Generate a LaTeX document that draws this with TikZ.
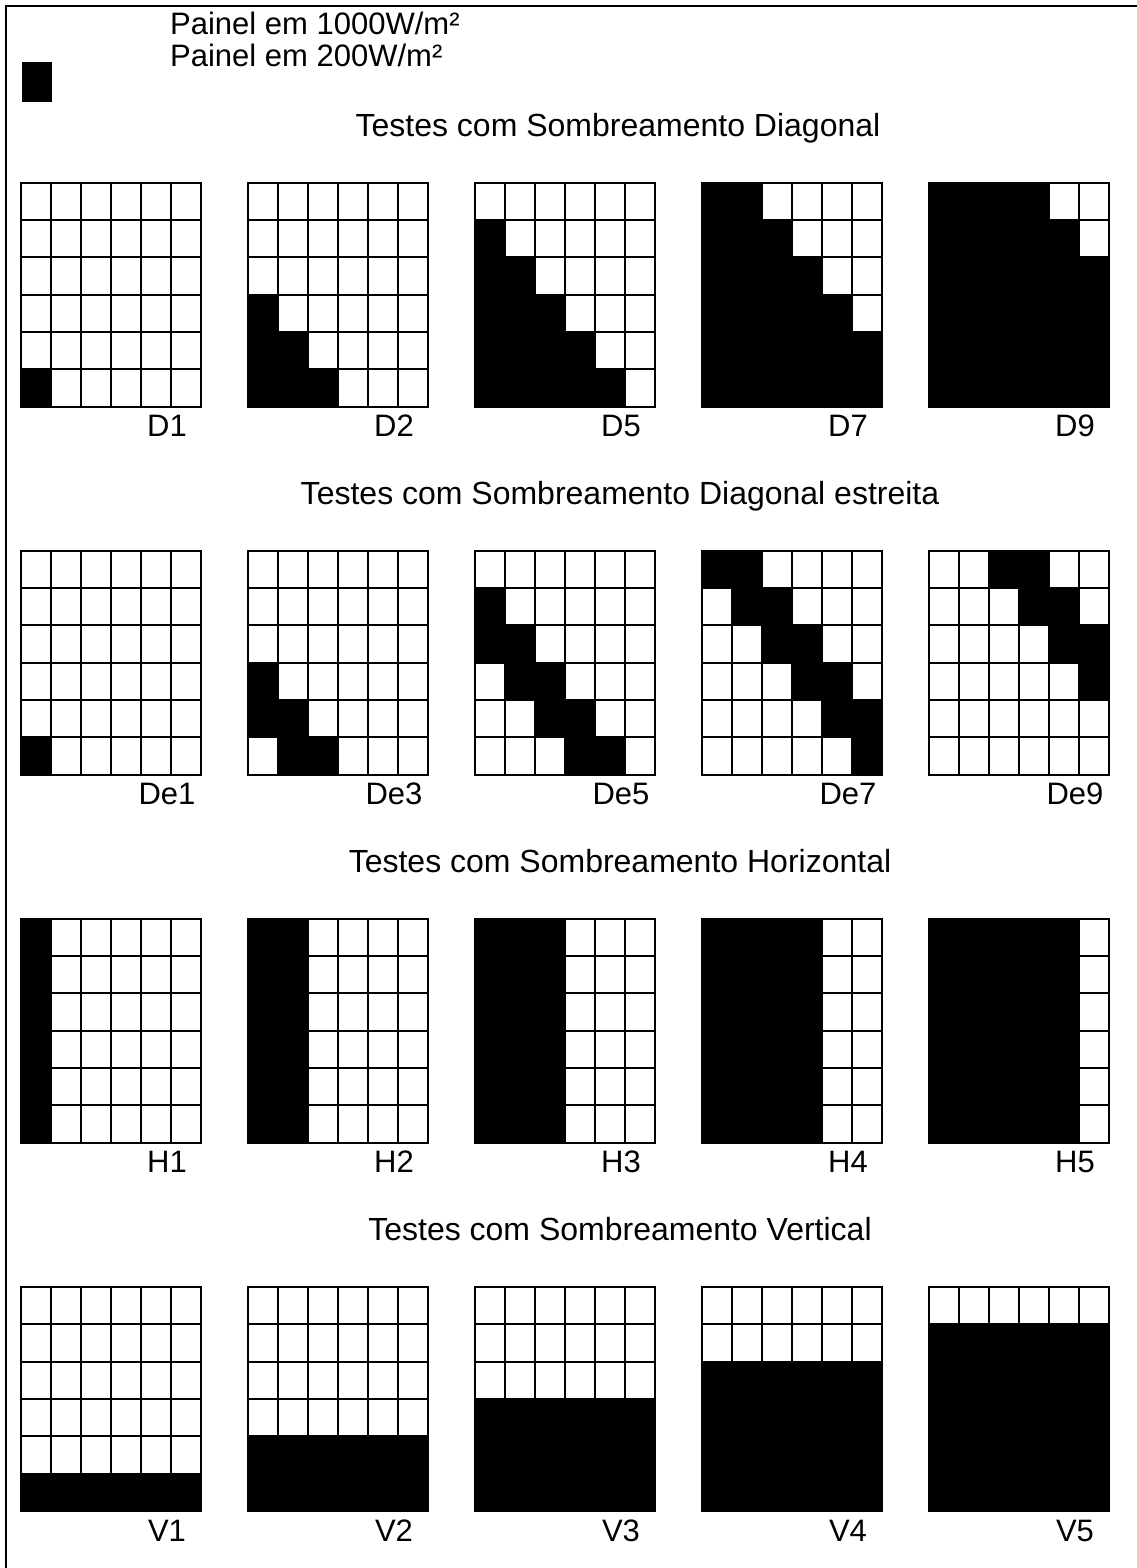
\documentclass[tikz,border=0pt]{standalone}
\usepackage{fontspec}
\setmainfont{Liberation Sans}
\tikzset{
  x=1pt,y=-1pt,
  cellline/.style={line width=2pt},
  framel/.style={line width=2pt},
  lab/.style={font=\fontsize{31}{31}\selectfont, anchor=base, inner sep=0pt},
  ttl/.style={font=\fontsize{32}{32}\selectfont, anchor=base, inner sep=0pt},
  leg/.style={font=\fontsize{31}{31}\selectfont, anchor=base west, inner sep=0pt},
}
\newcommand\drawpanel[5]{%
 \begin{scope}[shift={(#1,#2)}]
  \foreach \rr in {1,...,6}{\foreach \cc in {1,...,6}{%
     \pgfmathtruncatemacro\isblack{#3}%
     \ifnum\isblack=1 \fill (30*\cc-30,37.333*\rr-37.333) rectangle ++(30,37.333);\fi}}
  \foreach \i in {1,...,5}{\draw[cellline] (30*\i,0) -- (30*\i,224); \draw[cellline] (0,37.333*\i) -- (180,37.333*\i);}
  \draw[cellline] (0,0) rectangle (180,224);
  \node[lab] (#5) at (146,254) {#4};
 \end{scope}}
\begin{document}
\begin{tikzpicture}
\useasboundingbox (0,0) rectangle (1137,1568);
\fill[white] (0,0) rectangle (1137,1568);
\draw[framel] (6,1568) -- (6,6) -- (1137,6);
% legend
\fill (22,62) rectangle (52,102);
\node[leg] (leg1) at (170,35) {Painel em 1000W/m²};
\node[leg] (leg2) at (170,67) {Painel em 200W/m²};
% titles
\node[ttl] (tD) at (618,136) {Testes com Sombreamento Diagonal};
\node[ttl] (tDe) at (620,504) {Testes com Sombreamento Diagonal estreita};
\node[ttl] (tH) at (620,872) {Testes com Sombreamento Horizontal};
\node[ttl] (tV) at (620,1240) {Testes com Sombreamento Vertical};
% diagonal
\drawpanel{21}{182.5}{\cc<=\rr-5}{D1}{lD1}
\drawpanel{248}{182.5}{\cc<=\rr-3}{D2}{lD2}
\drawpanel{475}{182.5}{\cc<=\rr-1}{D5}{lD5}
\drawpanel{702}{182.5}{\cc<=\rr+1}{D7}{lD7}
\drawpanel{929}{182.5}{\cc<=\rr+3}{D9}{lD9}
% diagonal estreita
\drawpanel{21}{550.5}{and(\cc>=\rr-6,\cc<=\rr-5)}{De1}{lDe1}
\drawpanel{248}{550.5}{and(\cc>=\rr-4,\cc<=\rr-3)}{De3}{lDe3}
\drawpanel{475}{550.5}{and(\cc>=\rr-2,\cc<=\rr-1)}{De5}{lDe5}
\drawpanel{702}{550.5}{and(\cc>=\rr,\cc<=\rr+1)}{De7}{lDe7}
\drawpanel{929}{550.5}{and(\cc>=\rr+2,\cc<=\rr+3)}{De9}{lDe9}
% horizontal
\drawpanel{21}{918.5}{\cc<=1}{H1}{lH1}
\drawpanel{248}{918.5}{\cc<=2}{H2}{lH2}
\drawpanel{475}{918.5}{\cc<=3}{H3}{lH3}
\drawpanel{702}{918.5}{\cc<=4}{H4}{lH4}
\drawpanel{929}{918.5}{\cc<=5}{H5}{lH5}
% vertical
\drawpanel{21}{1287}{\rr>=6}{V1}{lV1}
\drawpanel{248}{1287}{\rr>=5}{V2}{lV2}
\drawpanel{475}{1287}{\rr>=4}{V3}{lV3}
\drawpanel{702}{1287}{\rr>=3}{V4}{lV4}
\drawpanel{929}{1287}{\rr>=2}{V5}{lV5}
\end{tikzpicture}
\end{document}
